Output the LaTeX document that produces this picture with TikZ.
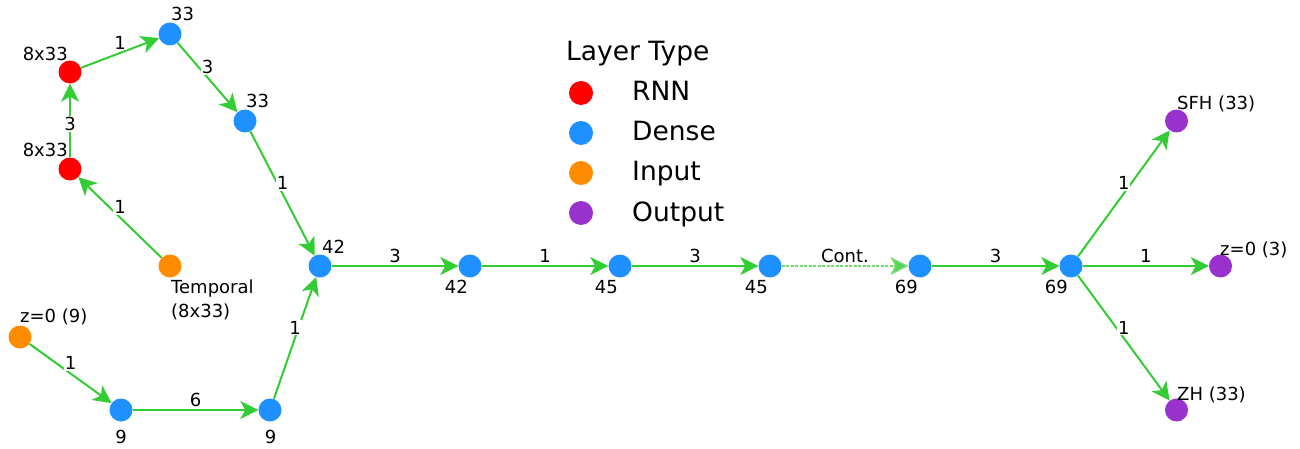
\documentclass[tikz,border=0pt]{standalone}
\usepackage{fontspec}
\setmainfont{DejaVu Sans}
\usetikzlibrary{arrows.meta}
\definecolor{rnnc}{HTML}{FF0000}
\definecolor{densec}{HTML}{1E90FF}
\definecolor{inputc}{HTML}{FF8C00}
\definecolor{outc}{HTML}{9932CC}
\definecolor{edgec}{HTML}{32CD32}
\tikzset{
  lay/.style={circle, inner sep=0pt, minimum size=23pt, fill=#1},
  nlab/.style={inner sep=0pt, font=\fontsize{18}{24}\selectfont},
  elab/.style={inner sep=1pt, fill=white, font=\fontsize{18}{24}\selectfont, midway, yshift=#1},
  elab/.default=10.5pt,
  conn/.style={draw=edgec, line width=2pt, -{Stealth[length=18pt,width=18pt,inset=5pt]}},
  dconn/.style={draw=edgec!70!white, line width=1.5pt, dash pattern=on 3pt off 1.5pt, -{Stealth[length=18pt,width=18pt,inset=5pt,fill=edgec!85!white]}},
  legdot/.style={circle, inner sep=0pt, minimum size=24pt, fill=#1},
  legtext/.style={anchor=base west, inner sep=0pt, font=\fontsize{26.5}{30}\selectfont}
}
\begin{document}
\begin{tikzpicture}[x=1pt,y=-1pt]
\useasboundingbox (0,0) rectangle (1300,449);
\fill[white] (0,0) rectangle (1300,449);

% layers
\node[lay=rnnc] (r1) at (70,72) {};
\node[lay=rnnc] (r2) at (70,169) {};
\node[lay=densec] (d1) at (170,34) {};
\node[lay=densec] (d2) at (245,121) {};
\node[lay=inputc] (tin) at (170,266) {};
\node[lay=inputc] (zin) at (20,337) {};
\node[lay=densec] (d9a) at (121,410) {};
\node[lay=densec] (d9b) at (270,410) {};
\node[lay=densec] (d42a) at (320,266) {};
\node[lay=densec] (d42b) at (470,266) {};
\node[lay=densec] (d45a) at (620,266) {};
\node[lay=densec] (d45b) at (770,266) {};
\node[lay=densec] (d69a) at (920,266) {};
\node[lay=densec] (d69b) at (1071,266) {};
\node[lay=outc] (osfh) at (1176.5,121) {};
\node[lay=outc] (oz) at (1220.5,266) {};
\node[lay=outc] (ozh) at (1176.5,410) {};

% connectors
\draw[conn] (tin) -- node[elab] (e1) {1} (r2);
\draw[conn] (r2) -- node[elab=-3.5pt] (e2) {3} (r1);
\draw[conn] (r1) -- node[elab] (e3) {1} (d1);
\draw[conn] (d1) -- node[elab] (e4) {3} (d2);
\draw[conn] (d2) -- node[elab] (e5) {1} (d42a);
\draw[conn] (zin) -- node[elab] (e6) {1} (d9a);
\draw[conn] (d9a) -- node[elab] (e7) {6} (d9b);
\draw[conn] (d9b) -- node[elab] (e8) {1} (d42a);
\draw[conn] (d42a) -- node[elab] (e9) {3} (d42b);
\draw[conn] (d42b) -- node[elab] (e10) {1} (d45a);
\draw[conn] (d45a) -- node[elab] (e11) {3} (d45b);
\draw[dconn] (d45b) -- node[elab] (e12) {Cont.} (d69a);
\draw[conn] (d69a) -- node[elab] (e13) {3} (d69b);
\draw[conn] (d69b) -- node[elab] (e14) {1} (osfh);
\draw[conn] (d69b) -- node[elab] (e15) {1} (oz);
\draw[conn] (d69b) -- node[elab] (e16) {1} (ozh);

% layer labels
\node[nlab, anchor=base east] (lr1) at (68,61) {8x33};
\node[nlab, anchor=base east] (lr2) at (68,157) {8x33};
\node[nlab, anchor=base west] (ld1) at (171,21) {33};
\node[nlab, anchor=base west] (ld2) at (246,108) {33};
\node[nlab, anchor=north west, align=left] (ltin) at (171,279.5) {Temporal\\(8x33)};
\node[nlab, anchor=base west] (lzin) at (20,322) {z=0 (9)};
\node[nlab, anchor=base] (l9a) at (121,443) {9};
\node[nlab, anchor=base] (l9b) at (270.5,443) {9};
\node[nlab, anchor=base west] (l42a) at (322,253) {42};
\node[nlab, anchor=base east] (l42b) at (468,293) {42};
\node[nlab, anchor=base east] (l45a) at (618,293) {45};
\node[nlab, anchor=base east] (l45b) at (768,293) {45};
\node[nlab, anchor=base east] (l69a) at (918,293) {69};
\node[nlab, anchor=base east] (l69b) at (1068,293) {69};
\node[nlab, anchor=base west] (lsfh) at (1177,110) {SFH (33)};
\node[nlab, anchor=base west] (loz) at (1220,255) {z=0 (3)};
\node[nlab, anchor=base west] (lzh) at (1177,400) {ZH (33)};

% legend
\node[legtext] (ltitle) at (566,61) {Layer Type};
\node[legdot=rnnc] (kr) at (581,93) {};
\node[legtext] (tr) at (632,101) {RNN};
\node[legdot=densec] (kd) at (581,133) {};
\node[legtext] (td) at (632,141) {Dense};
\node[legdot=inputc] (ki) at (581,173) {};
\node[legtext] (ti) at (632,181) {Input};
\node[legdot=outc] (ko) at (581,213) {};
\node[legtext] (to) at (632,221) {Output};
\end{tikzpicture}
\end{document}
